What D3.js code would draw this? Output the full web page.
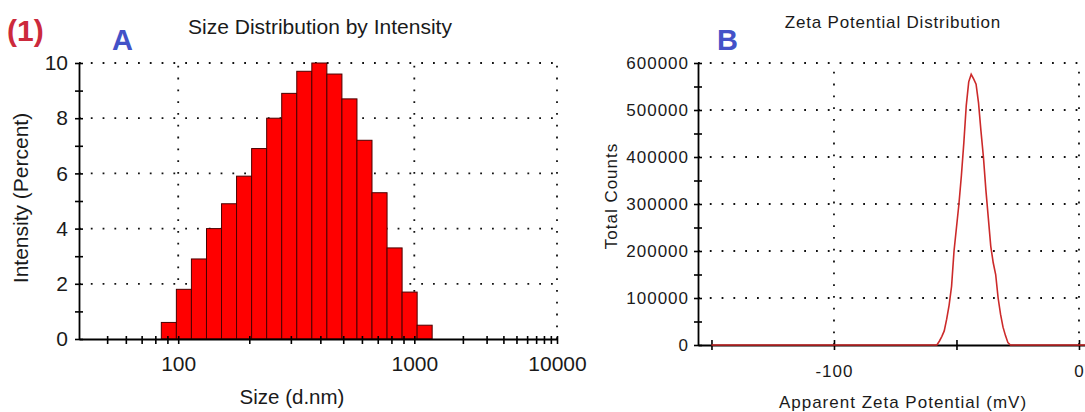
<!DOCTYPE html>
<html>
<head>
<meta charset="utf-8">
<script src="https://cdn.jsdelivr.net/npm/d3@7"></script>
<style>
  body { margin: 0; background: #fff; }
  svg { display: block; }
  text { font-family: "Liberation Sans", Arial, sans-serif; fill: #1a1a1a; }
</style>
</head>
<body>
<svg id="chart" width="1085" height="412"></svg>
<script>
// ---- Panel A: size distribution by intensity ----
// size classes (bin centres, d.nm) and the intensity share of each class (%)
const sizeBins = [91.28, 105.7, 122.4, 141.8, 164.2, 190.1, 220.2, 255.0, 295.3,
                  342.0, 396.1, 458.7, 531.2, 615.1, 712.4, 825.0, 955.4, 1106];
const intensity = [0.6, 1.8, 2.9, 4.0, 4.9, 5.9, 6.9, 8.0, 8.9,
                   9.7, 10.0, 9.6, 8.7, 7.2, 5.3, 3.3, 1.7, 0.5];
const binRatio = 1.1581;            // geometric step between neighbouring size classes
const sizeLabelTicks = [100, 1000, 10000];
const sizeMinorTicks = [50, 60, 70, 80, 90, 200, 300, 400, 500, 600, 700, 800, 900,
                        2000, 3000, 4000, 5000, 6000, 7000, 8000, 9000];
const intensityLabelTicks = [0, 2, 4, 6, 8, 10];
const intensityMinorTicks = [1, 3, 5, 7, 9];

// ---- Panel B: zeta potential distribution ----
const zetaMv = [-150, -58, -57, -56, -55, -54, -53, -52, -51, -50, -49, -48, -47, -46,
                -45, -44, -43, -42, -41, -40, -39, -38, -37, -36, -35, -34, -33, -32,
                -31, -30, -29, -28, 5];
const zetaCounts = [0, 0, 8000, 18000, 30000, 55000, 85000, 125000, 200000, 250000,
                    300000, 360000, 430000, 510000, 560000, 576000, 566000, 555000,
                    515000, 455000, 400000, 330000, 270000, 210000, 175000, 150000,
                    100000, 65000, 38000, 20000, 5000, 0, 0];
const countLabelTicks = [0, 100000, 200000, 300000, 400000, 500000, 600000];
const countMinorTicks = [50000, 150000, 250000, 350000, 450000, 550000];
const zetaAllTicks = [-150, -100, -50, 0];
const zetaLabelTicks = [-100, 0];

const svg = d3.select("#chart");

function dotted(sel) {
  return sel.attr("stroke", "#111").attr("stroke-width", 1.8)
            .attr("stroke-dasharray", "1.8,10").attr("fill", "none");
}
function crossTicks(g, orient, a, b) {
  g.selectAll(".tick line").each(function () {
    const l = d3.select(this);
    if (orient === "x") l.attr("y1", a).attr("y2", b);
    else l.attr("x1", a).attr("x2", b);
  });
  g.selectAll(".tick line").attr("stroke", "#000").attr("stroke-width", 1.6);
  g.select(".domain").attr("stroke", "#000").attr("stroke-width", 1.8);
}

// ================= Panel A =================
{
  const x = d3.scaleLog().domain([38, 1200, 10000]).range([79, 433, 557]);
  const y = d3.scaleLinear().domain([0, 10]).range([339, 63]);
  const g = svg.append("g");

  // dotted grid
  g.append("g").selectAll("line").data(intensityLabelTicks.filter(d => d > 0)).join("line")
    .attr("x1", x(38)).attr("x2", x(10000)).attr("y1", d => y(d)).attr("y2", d => y(d))
    .call(dotted);
  g.append("g").selectAll("line").data(sizeLabelTicks).join("line")
    .attr("x1", d => x(d)).attr("x2", d => x(d)).attr("y1", y(0)).attr("y2", y(10))
    .call(dotted);

  // histogram bars
  const half = Math.sqrt(binRatio);
  g.append("g").selectAll("rect").data(sizeBins.map((s, i) => ({ s, v: intensity[i] }))).join("rect")
    .attr("x", d => x(d.s / half))
    .attr("width", d => x(d.s * half) - x(d.s / half))
    .attr("y", d => y(d.v))
    .attr("height", d => y(0) - y(d.v))
    .attr("fill", "#ff0000").attr("stroke", "#4a0000").attr("stroke-width", 1);

  // axes
  const xAxis = g.append("g").attr("transform", `translate(0,${y(0)})`)
    .call(d3.axisBottom(x).tickValues(sizeLabelTicks.concat(sizeMinorTicks))
      .tickFormat(d => sizeLabelTicks.includes(d) ? String(d) : "")
      .tickSize(5).tickPadding(12).tickSizeOuter(0));
  crossTicks(xAxis, "x", -3, 5);
  xAxis.selectAll("text").attr("font-size", 21).style("fill", "#1a1a1a");

  const yAxis = g.append("g").attr("transform", `translate(${x(38)},0)`)
    .call(d3.axisLeft(y).tickValues(intensityLabelTicks.concat(intensityMinorTicks))
      .tickFormat(d => intensityLabelTicks.includes(d) ? String(d) : "")
      .tickSize(4).tickPadding(7).tickSizeOuter(0));
  crossTicks(yAxis, "y", -4, 4);
  yAxis.selectAll("text").attr("font-size", 21).style("fill", "#1a1a1a");

  g.append("text").attr("x", 320).attr("y", 34).attr("text-anchor", "middle")
    .attr("font-size", 21).text("Size Distribution by Intensity");
  g.append("text").attr("x", 292).attr("y", 404).attr("text-anchor", "middle")
    .attr("font-size", 20.5).text("Size (d.nm)");
  g.append("text").attr("transform", "translate(28,198) rotate(-90)").attr("text-anchor", "middle")
    .attr("font-size", 21).text("Intensity (Percent)");
}

// ================= Panel B =================
{
  const x = d3.scaleLinear().domain([-155.5, 4.5]).range([698, 1090]);
  const y = d3.scaleLinear().domain([0, 600000]).range([345, 63]);
  const g = svg.append("g");

  g.append("g").selectAll("line").data(countLabelTicks.filter(d => d > 0)).join("line")
    .attr("x1", x(-155.5)).attr("x2", 1085).attr("y1", d => y(d)).attr("y2", d => y(d))
    .call(dotted);
  g.append("g").selectAll("line").data(zetaLabelTicks).join("line")
    .attr("x1", d => x(d)).attr("x2", d => x(d)).attr("y1", y(0)).attr("y2", y(600000))
    .call(dotted);

  const xAxis = g.append("g").attr("transform", `translate(0,${y(0)})`)
    .call(d3.axisBottom(x).tickValues(zetaAllTicks)
      .tickFormat(d => zetaLabelTicks.includes(d) ? String(d) : "")
      .tickSize(5).tickPadding(15).tickSizeOuter(0));
  crossTicks(xAxis, "x", -5, 5);
  xAxis.selectAll("text").attr("font-size", 17).attr("letter-spacing", 1).style("fill", "#1a1a1a");

  const yAxis = g.append("g").attr("transform", `translate(${x(-155.5)},0)`)
    .call(d3.axisLeft(y).tickValues(countLabelTicks.concat(countMinorTicks))
      .tickFormat(d => countLabelTicks.includes(d) ? String(d) : "")
      .tickSize(4).tickPadding(5).tickSizeOuter(0));
  crossTicks(yAxis, "y", -4, 4);
  yAxis.selectAll("text").attr("font-size", 17).attr("letter-spacing", 1).style("fill", "#1a1a1a");

  const line = d3.line().x((d, i) => x(zetaMv[i])).y(d => y(d));
  g.append("path").datum(zetaCounts).attr("d", line)
    .attr("fill", "none").attr("stroke", "#cc2a2a").attr("stroke-width", 1.6);

  g.append("text").attr("x", 893).attr("y", 28).attr("text-anchor", "middle")
    .attr("font-size", 17).attr("letter-spacing", 0.8).text("Zeta Potential Distribution");
  g.append("text").attr("x", 903).attr("y", 408).attr("text-anchor", "middle")
    .attr("font-size", 17).attr("letter-spacing", 1).text("Apparent Zeta Potential (mV)");
  g.append("text").attr("transform", "translate(617,196) rotate(-90)").attr("text-anchor", "middle")
    .attr("font-size", 17).attr("letter-spacing", 1).text("Total Counts");
}

// panel markers
svg.append("text").attr("x", 7).attr("y", 41).attr("font-size", 30).attr("font-weight", "bold")
  .style("fill", "#cc2a3c").text("(1)");
svg.append("text").attr("x", 112).attr("y", 50).attr("font-size", 29).attr("font-weight", "bold")
  .style("fill", "#4352c8").text("A");
svg.append("text").attr("x", 717).attr("y", 50).attr("font-size", 29).attr("font-weight", "bold")
  .style("fill", "#4352c8").text("B");
</script>
</body>
</html>
